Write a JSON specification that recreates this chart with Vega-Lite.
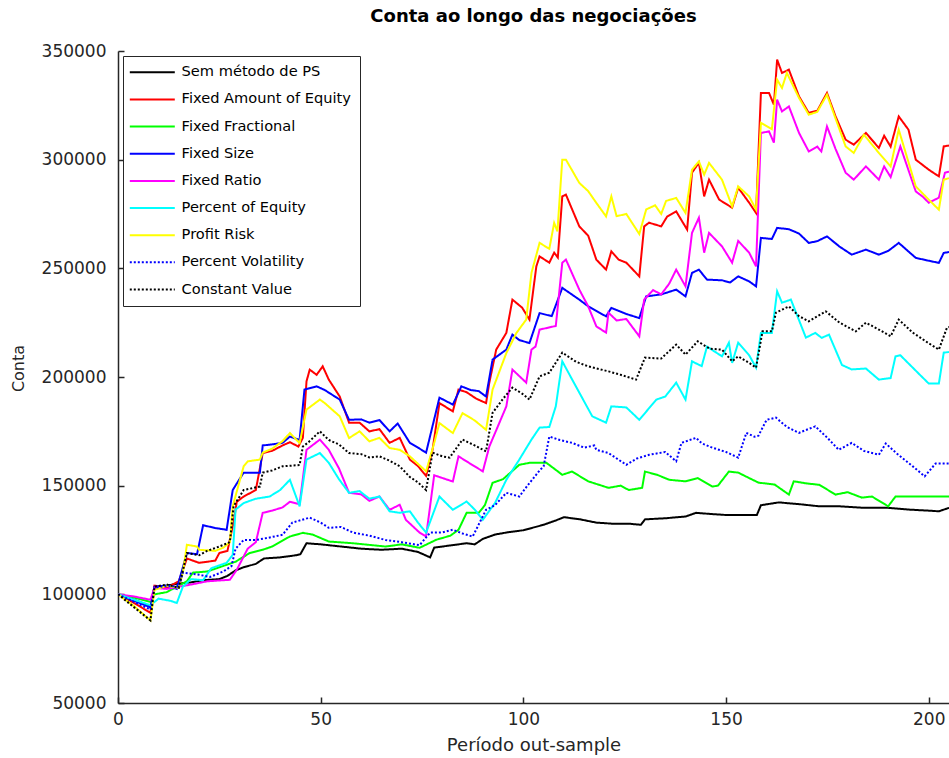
{
"$schema": "https://vega.github.io/schema/vega-lite/v6.json",
"width": 831, "height": 652,
"autosize": "none",
"padding": {"left": 118, "top": 51, "right": 0, "bottom": 55},
"background": "white",
"title": {"text": "Conta ao longo das negociações", "font": "DejaVu Sans", "fontSize": 18, "fontWeight": "bold", "color": "#000", "anchor": "middle", "offset": 16},
"config": {
  "view": {"stroke": null},
  "axis": {"grid": false, "ticks": true, "labelFlush": false, "labelFont": "DejaVu Sans", "labelFontSize": 17, "labelColor": "#262626", "titleFont": "DejaVu Sans", "titleFontSize": 18, "titleFontWeight": "normal", "titleColor": "#262626", "domainColor": "#262626", "domainWidth": 1.5, "tickColor": "#262626", "tickWidth": 1.5, "tickSize": -6},
  "legend": {"orient": "top-left", "offset": 5, "strokeColor": "#262626", "fillColor": "#ffffff", "padding": 9, "symbolType": "M-5,0H5", "symbolSize": 81, "symbolStrokeWidth": 2, "symbolOffset": 13, "labelOffset": 22, "labelLimit": 400, "labelFont": "DejaVu Sans", "labelFontSize": 14.6, "labelColor": "#000", "rowPadding": 12.15, "titleFontSize": 0}
},
"data": {"values": [
{"s":"Sem método de PS","x":0,"y":100000},{"s":"Sem método de PS","x":4,"y":97500},{"s":"Sem método de PS","x":8,"y":94500},{"s":"Sem método de PS","x":9,"y":103500},{"s":"Sem método de PS","x":12,"y":104000},{"s":"Sem método de PS","x":15,"y":105000},{"s":"Sem método de PS","x":18,"y":105500},{"s":"Sem método de PS","x":21,"y":106500},{"s":"Sem método de PS","x":25,"y":107000},{"s":"Sem método de PS","x":27,"y":108500},{"s":"Sem método de PS","x":29,"y":111000},{"s":"Sem método de PS","x":31,"y":112500},{"s":"Sem método de PS","x":34,"y":114000},{"s":"Sem método de PS","x":36,"y":116500},{"s":"Sem método de PS","x":40,"y":117000},{"s":"Sem método de PS","x":44,"y":118000},{"s":"Sem método de PS","x":45,"y":118500},{"s":"Sem método de PS","x":46.5,"y":123500},{"s":"Sem método de PS","x":50,"y":123000},{"s":"Sem método de PS","x":55,"y":122000},{"s":"Sem método de PS","x":60,"y":121000},{"s":"Sem método de PS","x":65,"y":120500},{"s":"Sem método de PS","x":70,"y":121000},{"s":"Sem método de PS","x":74,"y":119500},{"s":"Sem método de PS","x":77,"y":117000},{"s":"Sem método de PS","x":78,"y":121500},{"s":"Sem método de PS","x":82,"y":122500},{"s":"Sem método de PS","x":86,"y":123500},{"s":"Sem método de PS","x":88,"y":123000},{"s":"Sem método de PS","x":90,"y":125500},{"s":"Sem método de PS","x":93,"y":127500},{"s":"Sem método de PS","x":96,"y":128500},{"s":"Sem método de PS","x":100,"y":129500},{"s":"Sem método de PS","x":105,"y":132000},{"s":"Sem método de PS","x":108,"y":134000},{"s":"Sem método de PS","x":110,"y":135500},{"s":"Sem método de PS","x":114,"y":134500},{"s":"Sem método de PS","x":118,"y":133000},{"s":"Sem método de PS","x":122,"y":132500},{"s":"Sem método de PS","x":126,"y":132500},{"s":"Sem método de PS","x":129,"y":132000},{"s":"Sem método de PS","x":130,"y":134500},{"s":"Sem método de PS","x":135,"y":135000},{"s":"Sem método de PS","x":140,"y":135800},{"s":"Sem método de PS","x":142.6,"y":137500},{"s":"Sem método de PS","x":146,"y":137000},{"s":"Sem método de PS","x":150,"y":136500},{"s":"Sem método de PS","x":155,"y":136500},{"s":"Sem método de PS","x":157.6,"y":136500},{"s":"Sem método de PS","x":158.6,"y":141000},{"s":"Sem método de PS","x":163,"y":142300},{"s":"Sem método de PS","x":168,"y":141500},{"s":"Sem método de PS","x":173,"y":140500},{"s":"Sem método de PS","x":178,"y":140500},{"s":"Sem método de PS","x":184,"y":139800},{"s":"Sem método de PS","x":190,"y":139800},{"s":"Sem método de PS","x":195,"y":139000},{"s":"Sem método de PS","x":200,"y":138500},{"s":"Sem método de PS","x":202.5,"y":138200},{"s":"Sem método de PS","x":205,"y":139800},

{"s":"Fixed Amount of Equity","x":0,"y":100000},{"s":"Fixed Amount of Equity","x":4,"y":96000},{"s":"Fixed Amount of Equity","x":8,"y":91500},{"s":"Fixed Amount of Equity","x":9,"y":104000},{"s":"Fixed Amount of Equity","x":12,"y":103000},{"s":"Fixed Amount of Equity","x":15,"y":106000},{"s":"Fixed Amount of Equity","x":17,"y":116500},{"s":"Fixed Amount of Equity","x":20,"y":114500},{"s":"Fixed Amount of Equity","x":24,"y":115500},{"s":"Fixed Amount of Equity","x":25,"y":119000},{"s":"Fixed Amount of Equity","x":27,"y":120000},{"s":"Fixed Amount of Equity","x":28.5,"y":133000},{"s":"Fixed Amount of Equity","x":29.3,"y":142600},{"s":"Fixed Amount of Equity","x":31,"y":145000},{"s":"Fixed Amount of Equity","x":34,"y":148000},{"s":"Fixed Amount of Equity","x":35.7,"y":165000},{"s":"Fixed Amount of Equity","x":38,"y":166000},{"s":"Fixed Amount of Equity","x":40.6,"y":168500},{"s":"Fixed Amount of Equity","x":42.4,"y":170000},{"s":"Fixed Amount of Equity","x":44.5,"y":168000},{"s":"Fixed Amount of Equity","x":45.6,"y":172000},{"s":"Fixed Amount of Equity","x":46.5,"y":198000},{"s":"Fixed Amount of Equity","x":47.3,"y":203400},{"s":"Fixed Amount of Equity","x":49,"y":201000},{"s":"Fixed Amount of Equity","x":50.5,"y":204900},{"s":"Fixed Amount of Equity","x":52,"y":198800},{"s":"Fixed Amount of Equity","x":54.7,"y":191000},{"s":"Fixed Amount of Equity","x":57,"y":179000},{"s":"Fixed Amount of Equity","x":59.6,"y":179000},{"s":"Fixed Amount of Equity","x":62,"y":175000},{"s":"Fixed Amount of Equity","x":64.5,"y":176000},{"s":"Fixed Amount of Equity","x":67,"y":169700},{"s":"Fixed Amount of Equity","x":69.5,"y":172000},{"s":"Fixed Amount of Equity","x":72,"y":162000},{"s":"Fixed Amount of Equity","x":74,"y":159000},{"s":"Fixed Amount of Equity","x":76,"y":154500},{"s":"Fixed Amount of Equity","x":77.6,"y":166500},{"s":"Fixed Amount of Equity","x":79.3,"y":188000},{"s":"Fixed Amount of Equity","x":82.6,"y":184200},{"s":"Fixed Amount of Equity","x":84,"y":194200},{"s":"Fixed Amount of Equity","x":86,"y":193000},{"s":"Fixed Amount of Equity","x":88.4,"y":190000},{"s":"Fixed Amount of Equity","x":90.8,"y":188000},{"s":"Fixed Amount of Equity","x":91.6,"y":197400},{"s":"Fixed Amount of Equity","x":93.3,"y":212600},{"s":"Fixed Amount of Equity","x":95.8,"y":220300},{"s":"Fixed Amount of Equity","x":97.3,"y":235600},{"s":"Fixed Amount of Equity","x":99.7,"y":231900},{"s":"Fixed Amount of Equity","x":101.5,"y":226400},{"s":"Fixed Amount of Equity","x":103.2,"y":250900},{"s":"Fixed Amount of Equity","x":104,"y":255500},{"s":"Fixed Amount of Equity","x":106.4,"y":252600},{"s":"Fixed Amount of Equity","x":107.6,"y":257200},{"s":"Fixed Amount of Equity","x":108.5,"y":255000},{"s":"Fixed Amount of Equity","x":109.6,"y":283100},{"s":"Fixed Amount of Equity","x":110.5,"y":283900},{"s":"Fixed Amount of Equity","x":113.8,"y":269300},{"s":"Fixed Amount of Equity","x":116,"y":265000},{"s":"Fixed Amount of Equity","x":118,"y":254000},{"s":"Fixed Amount of Equity","x":120.4,"y":249400},{"s":"Fixed Amount of Equity","x":121.7,"y":257800},{"s":"Fixed Amount of Equity","x":123.5,"y":254000},{"s":"Fixed Amount of Equity","x":125.4,"y":252600},{"s":"Fixed Amount of Equity","x":128.6,"y":246300},{"s":"Fixed Amount of Equity","x":129.8,"y":269300},{"s":"Fixed Amount of Equity","x":131,"y":271000},{"s":"Fixed Amount of Equity","x":134,"y":269300},{"s":"Fixed Amount of Equity","x":135.5,"y":273900},{"s":"Fixed Amount of Equity","x":137.7,"y":276200},{"s":"Fixed Amount of Equity","x":140.4,"y":267800},{"s":"Fixed Amount of Equity","x":141.6,"y":294000},{"s":"Fixed Amount of Equity","x":143.3,"y":298600},{"s":"Fixed Amount of Equity","x":144.6,"y":283100},{"s":"Fixed Amount of Equity","x":145.8,"y":290800},{"s":"Fixed Amount of Equity","x":148.3,"y":281600},{"s":"Fixed Amount of Equity","x":151.5,"y":277900},{"s":"Fixed Amount of Equity","x":153,"y":287100},{"s":"Fixed Amount of Equity","x":155.7,"y":280200},{"s":"Fixed Amount of Equity","x":157.4,"y":275500},{"s":"Fixed Amount of Equity","x":158.6,"y":330700},{"s":"Fixed Amount of Equity","x":160.6,"y":330700},{"s":"Fixed Amount of Equity","x":161.8,"y":325300},{"s":"Fixed Amount of Equity","x":162.6,"y":346000},{"s":"Fixed Amount of Equity","x":163.8,"y":339900},{"s":"Fixed Amount of Equity","x":165.5,"y":341400},{"s":"Fixed Amount of Equity","x":168,"y":329100},{"s":"Fixed Amount of Equity","x":170.4,"y":321500},{"s":"Fixed Amount of Equity","x":172.5,"y":322500},{"s":"Fixed Amount of Equity","x":174.9,"y":330700},{"s":"Fixed Amount of Equity","x":177,"y":320000},{"s":"Fixed Amount of Equity","x":179.5,"y":309200},{"s":"Fixed Amount of Equity","x":181.5,"y":306900},{"s":"Fixed Amount of Equity","x":184.5,"y":312300},{"s":"Fixed Amount of Equity","x":187.7,"y":305400},{"s":"Fixed Amount of Equity","x":189,"y":311000},{"s":"Fixed Amount of Equity","x":190.6,"y":306000},{"s":"Fixed Amount of Equity","x":192.6,"y":319900},{"s":"Fixed Amount of Equity","x":195,"y":313800},{"s":"Fixed Amount of Equity","x":196.8,"y":300000},{"s":"Fixed Amount of Equity","x":200,"y":295400},{"s":"Fixed Amount of Equity","x":202.5,"y":292300},{"s":"Fixed Amount of Equity","x":203.7,"y":306100},{"s":"Fixed Amount of Equity","x":205,"y":306500},

{"s":"Fixed Fractional","x":0,"y":100000},{"s":"Fixed Fractional","x":4,"y":98500},{"s":"Fixed Fractional","x":8,"y":96500},{"s":"Fixed Fractional","x":9,"y":100000},{"s":"Fixed Fractional","x":12,"y":101000},{"s":"Fixed Fractional","x":15,"y":104000},{"s":"Fixed Fractional","x":17,"y":106000},{"s":"Fixed Fractional","x":18.5,"y":110000},{"s":"Fixed Fractional","x":22,"y":110500},{"s":"Fixed Fractional","x":26.8,"y":113600},{"s":"Fixed Fractional","x":29,"y":115000},{"s":"Fixed Fractional","x":32.5,"y":119000},{"s":"Fixed Fractional","x":35.7,"y":120500},{"s":"Fixed Fractional","x":38,"y":122000},{"s":"Fixed Fractional","x":42.4,"y":126600},{"s":"Fixed Fractional","x":45.6,"y":128300},{"s":"Fixed Fractional","x":48,"y":127500},{"s":"Fixed Fractional","x":52,"y":124300},{"s":"Fixed Fractional","x":58,"y":123500},{"s":"Fixed Fractional","x":66,"y":122000},{"s":"Fixed Fractional","x":70,"y":123000},{"s":"Fixed Fractional","x":74.4,"y":121400},{"s":"Fixed Fractional","x":78.5,"y":125100},{"s":"Fixed Fractional","x":82,"y":127000},{"s":"Fixed Fractional","x":84,"y":129700},{"s":"Fixed Fractional","x":86,"y":137500},{"s":"Fixed Fractional","x":89,"y":137500},{"s":"Fixed Fractional","x":90.5,"y":141000},{"s":"Fixed Fractional","x":92.4,"y":151300},{"s":"Fixed Fractional","x":95,"y":153000},{"s":"Fixed Fractional","x":99,"y":159600},{"s":"Fixed Fractional","x":101.5,"y":160500},{"s":"Fixed Fractional","x":105.7,"y":160500},{"s":"Fixed Fractional","x":109.6,"y":155000},{"s":"Fixed Fractional","x":112,"y":156500},{"s":"Fixed Fractional","x":116,"y":152000},{"s":"Fixed Fractional","x":121,"y":149000},{"s":"Fixed Fractional","x":124,"y":150000},{"s":"Fixed Fractional","x":126,"y":148000},{"s":"Fixed Fractional","x":129.3,"y":149000},{"s":"Fixed Fractional","x":130,"y":156500},{"s":"Fixed Fractional","x":133,"y":155000},{"s":"Fixed Fractional","x":136,"y":152700},{"s":"Fixed Fractional","x":140,"y":152000},{"s":"Fixed Fractional","x":143,"y":153500},{"s":"Fixed Fractional","x":146.6,"y":149600},{"s":"Fixed Fractional","x":148,"y":150000},{"s":"Fixed Fractional","x":150.7,"y":156500},{"s":"Fixed Fractional","x":153,"y":156000},{"s":"Fixed Fractional","x":155.7,"y":153500},{"s":"Fixed Fractional","x":158,"y":151400},{"s":"Fixed Fractional","x":162,"y":150500},{"s":"Fixed Fractional","x":165.5,"y":145900},{"s":"Fixed Fractional","x":166.7,"y":152000},{"s":"Fixed Fractional","x":170,"y":151000},{"s":"Fixed Fractional","x":173,"y":150400},{"s":"Fixed Fractional","x":177,"y":145900},{"s":"Fixed Fractional","x":180,"y":147000},{"s":"Fixed Fractional","x":183.5,"y":144500},{"s":"Fixed Fractional","x":186,"y":145000},{"s":"Fixed Fractional","x":190,"y":140500},{"s":"Fixed Fractional","x":191.8,"y":145000},{"s":"Fixed Fractional","x":205,"y":145000},

{"s":"Fixed Size","x":0,"y":100000},{"s":"Fixed Size","x":4,"y":97000},{"s":"Fixed Size","x":8,"y":94000},{"s":"Fixed Size","x":9,"y":103500},{"s":"Fixed Size","x":12,"y":104000},{"s":"Fixed Size","x":14.5,"y":102500},{"s":"Fixed Size","x":17,"y":119000},{"s":"Fixed Size","x":19.5,"y":118500},{"s":"Fixed Size","x":21,"y":131800},{"s":"Fixed Size","x":24,"y":130500},{"s":"Fixed Size","x":26.8,"y":129700},{"s":"Fixed Size","x":28.3,"y":148000},{"s":"Fixed Size","x":31,"y":156000},{"s":"Fixed Size","x":35,"y":156000},{"s":"Fixed Size","x":35.7,"y":168500},{"s":"Fixed Size","x":38,"y":169000},{"s":"Fixed Size","x":40.6,"y":169700},{"s":"Fixed Size","x":42.4,"y":172600},{"s":"Fixed Size","x":44.8,"y":171000},{"s":"Fixed Size","x":46,"y":194200},{"s":"Fixed Size","x":49,"y":195700},{"s":"Fixed Size","x":51,"y":194000},{"s":"Fixed Size","x":54.7,"y":189600},{"s":"Fixed Size","x":57,"y":180300},{"s":"Fixed Size","x":60,"y":180500},{"s":"Fixed Size","x":62,"y":179000},{"s":"Fixed Size","x":64.5,"y":180200},{"s":"Fixed Size","x":67,"y":175000},{"s":"Fixed Size","x":69,"y":178600},{"s":"Fixed Size","x":72,"y":169700},{"s":"Fixed Size","x":74,"y":167500},{"s":"Fixed Size","x":76,"y":165200},{"s":"Fixed Size","x":79.3,"y":190500},{"s":"Fixed Size","x":82.6,"y":187300},{"s":"Fixed Size","x":84.7,"y":195700},{"s":"Fixed Size","x":87,"y":194000},{"s":"Fixed Size","x":89,"y":193500},{"s":"Fixed Size","x":90.8,"y":191000},{"s":"Fixed Size","x":92.4,"y":208000},{"s":"Fixed Size","x":95.8,"y":212600},{"s":"Fixed Size","x":97.3,"y":219500},{"s":"Fixed Size","x":99,"y":217000},{"s":"Fixed Size","x":101.5,"y":215600},{"s":"Fixed Size","x":104,"y":229400},{"s":"Fixed Size","x":107,"y":228000},{"s":"Fixed Size","x":109.6,"y":241000},{"s":"Fixed Size","x":113.8,"y":235600},{"s":"Fixed Size","x":116,"y":232500},{"s":"Fixed Size","x":120.4,"y":227900},{"s":"Fixed Size","x":121.7,"y":231800},{"s":"Fixed Size","x":125.4,"y":229000},{"s":"Fixed Size","x":128.6,"y":227100},{"s":"Fixed Size","x":130.3,"y":237100},{"s":"Fixed Size","x":134,"y":238000},{"s":"Fixed Size","x":137.7,"y":240200},{"s":"Fixed Size","x":140,"y":237100},{"s":"Fixed Size","x":141.6,"y":247900},{"s":"Fixed Size","x":143.3,"y":249400},{"s":"Fixed Size","x":145.3,"y":244800},{"s":"Fixed Size","x":149,"y":244500},{"s":"Fixed Size","x":151,"y":243500},{"s":"Fixed Size","x":153,"y":246300},{"s":"Fixed Size","x":155.7,"y":244000},{"s":"Fixed Size","x":157.4,"y":241700},{"s":"Fixed Size","x":158.6,"y":264000},{"s":"Fixed Size","x":161.3,"y":263500},{"s":"Fixed Size","x":162.6,"y":268600},{"s":"Fixed Size","x":165.5,"y":268000},{"s":"Fixed Size","x":168,"y":266000},{"s":"Fixed Size","x":170.4,"y":261700},{"s":"Fixed Size","x":172.5,"y":262500},{"s":"Fixed Size","x":174.9,"y":264700},{"s":"Fixed Size","x":178,"y":260000},{"s":"Fixed Size","x":181,"y":256300},{"s":"Fixed Size","x":184.5,"y":258600},{"s":"Fixed Size","x":187.7,"y":256300},{"s":"Fixed Size","x":190,"y":258000},{"s":"Fixed Size","x":192.6,"y":261700},{"s":"Fixed Size","x":196.8,"y":254800},{"s":"Fixed Size","x":200,"y":253500},{"s":"Fixed Size","x":202.5,"y":252500},{"s":"Fixed Size","x":203.7,"y":257100},{"s":"Fixed Size","x":205,"y":257500},

{"s":"Fixed Ratio","x":0,"y":100000},{"s":"Fixed Ratio","x":4,"y":99000},{"s":"Fixed Ratio","x":8,"y":97500},{"s":"Fixed Ratio","x":9,"y":103000},{"s":"Fixed Ratio","x":12,"y":102500},{"s":"Fixed Ratio","x":15,"y":103500},{"s":"Fixed Ratio","x":18,"y":104500},{"s":"Fixed Ratio","x":22,"y":106000},{"s":"Fixed Ratio","x":27.6,"y":106700},{"s":"Fixed Ratio","x":29.3,"y":111300},{"s":"Fixed Ratio","x":32,"y":121000},{"s":"Fixed Ratio","x":34,"y":124000},{"s":"Fixed Ratio","x":35.7,"y":137500},{"s":"Fixed Ratio","x":38,"y":138500},{"s":"Fixed Ratio","x":40.6,"y":140000},{"s":"Fixed Ratio","x":42.4,"y":142600},{"s":"Fixed Ratio","x":44.8,"y":141500},{"s":"Fixed Ratio","x":46.5,"y":166500},{"s":"Fixed Ratio","x":49.8,"y":171200},{"s":"Fixed Ratio","x":52,"y":166500},{"s":"Fixed Ratio","x":54.5,"y":158000},{"s":"Fixed Ratio","x":57,"y":146700},{"s":"Fixed Ratio","x":60,"y":146000},{"s":"Fixed Ratio","x":62,"y":143000},{"s":"Fixed Ratio","x":64.5,"y":145000},{"s":"Fixed Ratio","x":67,"y":138900},{"s":"Fixed Ratio","x":69.5,"y":141200},{"s":"Fixed Ratio","x":71,"y":134300},{"s":"Fixed Ratio","x":74.4,"y":128400},{"s":"Fixed Ratio","x":76,"y":126600},{"s":"Fixed Ratio","x":78,"y":154800},{"s":"Fixed Ratio","x":82.6,"y":151900},{"s":"Fixed Ratio","x":84,"y":163500},{"s":"Fixed Ratio","x":87,"y":160000},{"s":"Fixed Ratio","x":90,"y":156600},{"s":"Fixed Ratio","x":91.6,"y":168000},{"s":"Fixed Ratio","x":95.8,"y":186500},{"s":"Fixed Ratio","x":97.3,"y":203400},{"s":"Fixed Ratio","x":100.7,"y":197400},{"s":"Fixed Ratio","x":102,"y":212600},{"s":"Fixed Ratio","x":103,"y":214000},{"s":"Fixed Ratio","x":104,"y":221800},{"s":"Fixed Ratio","x":108,"y":223500},{"s":"Fixed Ratio","x":109.6,"y":252600},{"s":"Fixed Ratio","x":110.5,"y":254000},{"s":"Fixed Ratio","x":113.8,"y":240200},{"s":"Fixed Ratio","x":116,"y":232500},{"s":"Fixed Ratio","x":118,"y":223300},{"s":"Fixed Ratio","x":120.4,"y":220400},{"s":"Fixed Ratio","x":121,"y":229600},{"s":"Fixed Ratio","x":123,"y":226000},{"s":"Fixed Ratio","x":125.4,"y":226700},{"s":"Fixed Ratio","x":128.6,"y":218700},{"s":"Fixed Ratio","x":129.8,"y":235600},{"s":"Fixed Ratio","x":132,"y":240000},{"s":"Fixed Ratio","x":134,"y":238000},{"s":"Fixed Ratio","x":136,"y":243000},{"s":"Fixed Ratio","x":137.7,"y":249400},{"s":"Fixed Ratio","x":140,"y":241700},{"s":"Fixed Ratio","x":141.6,"y":266300},{"s":"Fixed Ratio","x":143.3,"y":273300},{"s":"Fixed Ratio","x":144.6,"y":257200},{"s":"Fixed Ratio","x":145.8,"y":266300},{"s":"Fixed Ratio","x":149,"y":260100},{"s":"Fixed Ratio","x":151.5,"y":252600},{"s":"Fixed Ratio","x":153,"y":262600},{"s":"Fixed Ratio","x":155.7,"y":257200},{"s":"Fixed Ratio","x":157.4,"y":250900},{"s":"Fixed Ratio","x":158.6,"y":312300},{"s":"Fixed Ratio","x":160.6,"y":313000},{"s":"Fixed Ratio","x":161.8,"y":307800},{"s":"Fixed Ratio","x":162.6,"y":327600},{"s":"Fixed Ratio","x":163.8,"y":322200},{"s":"Fixed Ratio","x":165.5,"y":324500},{"s":"Fixed Ratio","x":168,"y":312300},{"s":"Fixed Ratio","x":170.4,"y":303800},{"s":"Fixed Ratio","x":172.5,"y":306000},{"s":"Fixed Ratio","x":173.5,"y":303800},{"s":"Fixed Ratio","x":174.9,"y":315300},{"s":"Fixed Ratio","x":177,"y":305000},{"s":"Fixed Ratio","x":179.5,"y":294000},{"s":"Fixed Ratio","x":181.5,"y":290800},{"s":"Fixed Ratio","x":184.5,"y":296900},{"s":"Fixed Ratio","x":187.7,"y":290800},{"s":"Fixed Ratio","x":189,"y":296900},{"s":"Fixed Ratio","x":190.6,"y":292000},{"s":"Fixed Ratio","x":193,"y":306100},{"s":"Fixed Ratio","x":196.8,"y":285400},{"s":"Fixed Ratio","x":198.5,"y":283000},{"s":"Fixed Ratio","x":200,"y":280200},{"s":"Fixed Ratio","x":202.5,"y":282500},{"s":"Fixed Ratio","x":204,"y":294000},{"s":"Fixed Ratio","x":205,"y":294500},

{"s":"Percent of Equity","x":0,"y":100000},{"s":"Percent of Equity","x":4,"y":97500},{"s":"Percent of Equity","x":8,"y":95000},{"s":"Percent of Equity","x":10,"y":98000},{"s":"Percent of Equity","x":13,"y":97000},{"s":"Percent of Equity","x":14.5,"y":96000},{"s":"Percent of Equity","x":16,"y":103500},{"s":"Percent of Equity","x":18,"y":107000},{"s":"Percent of Equity","x":21,"y":106500},{"s":"Percent of Equity","x":23,"y":112000},{"s":"Percent of Equity","x":26.8,"y":114500},{"s":"Percent of Equity","x":28.3,"y":118200},{"s":"Percent of Equity","x":29,"y":139000},{"s":"Percent of Equity","x":31,"y":142000},{"s":"Percent of Equity","x":34,"y":144000},{"s":"Percent of Equity","x":37.4,"y":145000},{"s":"Percent of Equity","x":40,"y":148000},{"s":"Percent of Equity","x":42.4,"y":152700},{"s":"Percent of Equity","x":44.8,"y":140500},{"s":"Percent of Equity","x":46.5,"y":162000},{"s":"Percent of Equity","x":49.8,"y":165000},{"s":"Percent of Equity","x":52,"y":160500},{"s":"Percent of Equity","x":54.5,"y":153000},{"s":"Percent of Equity","x":57,"y":146700},{"s":"Percent of Equity","x":59.6,"y":147500},{"s":"Percent of Equity","x":62,"y":144000},{"s":"Percent of Equity","x":64.5,"y":145000},{"s":"Percent of Equity","x":67,"y":138200},{"s":"Percent of Equity","x":69.5,"y":137500},{"s":"Percent of Equity","x":72,"y":138200},{"s":"Percent of Equity","x":74,"y":133000},{"s":"Percent of Equity","x":76,"y":128400},{"s":"Percent of Equity","x":79.3,"y":145000},{"s":"Percent of Equity","x":82.6,"y":138900},{"s":"Percent of Equity","x":86,"y":142700},{"s":"Percent of Equity","x":88,"y":139000},{"s":"Percent of Equity","x":90,"y":134300},{"s":"Percent of Equity","x":93,"y":142000},{"s":"Percent of Equity","x":95.8,"y":152700},{"s":"Percent of Equity","x":99,"y":162000},{"s":"Percent of Equity","x":102,"y":171200},{"s":"Percent of Equity","x":104,"y":176700},{"s":"Percent of Equity","x":106.4,"y":177000},{"s":"Percent of Equity","x":108,"y":186500},{"s":"Percent of Equity","x":109.6,"y":207200},{"s":"Percent of Equity","x":113.8,"y":192800},{"s":"Percent of Equity","x":117,"y":181900},{"s":"Percent of Equity","x":120.4,"y":179000},{"s":"Percent of Equity","x":121.7,"y":186500},{"s":"Percent of Equity","x":125.4,"y":186000},{"s":"Percent of Equity","x":128.6,"y":180300},{"s":"Percent of Equity","x":132.8,"y":189600},{"s":"Percent of Equity","x":135,"y":191000},{"s":"Percent of Equity","x":137.7,"y":197400},{"s":"Percent of Equity","x":140,"y":189600},{"s":"Percent of Equity","x":141.6,"y":207200},{"s":"Percent of Equity","x":144,"y":205000},{"s":"Percent of Equity","x":145.3,"y":214000},{"s":"Percent of Equity","x":149,"y":209500},{"s":"Percent of Equity","x":150.7,"y":215800},{"s":"Percent of Equity","x":151.5,"y":206500},{"s":"Percent of Equity","x":153,"y":215800},{"s":"Percent of Equity","x":155.7,"y":210000},{"s":"Percent of Equity","x":157.4,"y":204300},{"s":"Percent of Equity","x":158.6,"y":220300},{"s":"Percent of Equity","x":161.3,"y":220300},{"s":"Percent of Equity","x":162.6,"y":239400},{"s":"Percent of Equity","x":163.8,"y":234200},{"s":"Percent of Equity","x":166,"y":235600},{"s":"Percent of Equity","x":169.7,"y":218100},{"s":"Percent of Equity","x":172,"y":220300},{"s":"Percent of Equity","x":173.6,"y":218000},{"s":"Percent of Equity","x":175.4,"y":219500},{"s":"Percent of Equity","x":178.6,"y":205500},{"s":"Percent of Equity","x":181,"y":203500},{"s":"Percent of Equity","x":184.5,"y":203900},{"s":"Percent of Equity","x":187.7,"y":198800},{"s":"Percent of Equity","x":190.6,"y":199500},{"s":"Percent of Equity","x":191.8,"y":209500},{"s":"Percent of Equity","x":193,"y":210000},{"s":"Percent of Equity","x":197.5,"y":201600},{"s":"Percent of Equity","x":200,"y":197000},{"s":"Percent of Equity","x":202.5,"y":197000},{"s":"Percent of Equity","x":203.7,"y":211200},{"s":"Percent of Equity","x":205,"y":211500},

{"s":"Profit Risk","x":0,"y":100000},{"s":"Profit Risk","x":4,"y":94500},{"s":"Profit Risk","x":8,"y":88000},{"s":"Profit Risk","x":9,"y":102000},{"s":"Profit Risk","x":12,"y":104000},{"s":"Profit Risk","x":15,"y":103000},{"s":"Profit Risk","x":16,"y":110000},{"s":"Profit Risk","x":17,"y":122800},{"s":"Profit Risk","x":19.5,"y":122000},{"s":"Profit Risk","x":20,"y":120500},{"s":"Profit Risk","x":24,"y":120000},{"s":"Profit Risk","x":26,"y":121500},{"s":"Profit Risk","x":27.6,"y":124000},{"s":"Profit Risk","x":28.3,"y":140500},{"s":"Profit Risk","x":31,"y":158900},{"s":"Profit Risk","x":32,"y":161200},{"s":"Profit Risk","x":35,"y":162000},{"s":"Profit Risk","x":35.7,"y":165200},{"s":"Profit Risk","x":38,"y":167000},{"s":"Profit Risk","x":40.6,"y":170500},{"s":"Profit Risk","x":42.4,"y":174200},{"s":"Profit Risk","x":44.8,"y":169600},{"s":"Profit Risk","x":46.5,"y":185000},{"s":"Profit Risk","x":49.8,"y":189600},{"s":"Profit Risk","x":51,"y":188000},{"s":"Profit Risk","x":54.7,"y":181900},{"s":"Profit Risk","x":57,"y":171900},{"s":"Profit Risk","x":59.6,"y":175000},{"s":"Profit Risk","x":62,"y":170400},{"s":"Profit Risk","x":64.5,"y":172000},{"s":"Profit Risk","x":67,"y":167300},{"s":"Profit Risk","x":69.5,"y":166500},{"s":"Profit Risk","x":72,"y":163500},{"s":"Profit Risk","x":76,"y":156600},{"s":"Profit Risk","x":78,"y":169600},{"s":"Profit Risk","x":79.3,"y":178800},{"s":"Profit Risk","x":82.6,"y":174200},{"s":"Profit Risk","x":85,"y":183400},{"s":"Profit Risk","x":88,"y":180000},{"s":"Profit Risk","x":90.8,"y":175700},{"s":"Profit Risk","x":92.4,"y":194200},{"s":"Profit Risk","x":95.8,"y":211000},{"s":"Profit Risk","x":98.3,"y":220300},{"s":"Profit Risk","x":100.7,"y":226400},{"s":"Profit Risk","x":102,"y":247900},{"s":"Profit Risk","x":104,"y":261700},{"s":"Profit Risk","x":106.4,"y":259000},{"s":"Profit Risk","x":107.6,"y":270900},{"s":"Profit Risk","x":108.4,"y":267000},{"s":"Profit Risk","x":109.6,"y":300000},{"s":"Profit Risk","x":110.5,"y":300000},{"s":"Profit Risk","x":113.8,"y":289300},{"s":"Profit Risk","x":116,"y":285500},{"s":"Profit Risk","x":118,"y":280100},{"s":"Profit Risk","x":120.4,"y":273900},{"s":"Profit Risk","x":121.7,"y":283100},{"s":"Profit Risk","x":123,"y":274000},{"s":"Profit Risk","x":125.4,"y":275000},{"s":"Profit Risk","x":128.6,"y":265800},{"s":"Profit Risk","x":130.3,"y":277100},{"s":"Profit Risk","x":132.5,"y":279000},{"s":"Profit Risk","x":134,"y":275000},{"s":"Profit Risk","x":135.2,"y":281000},{"s":"Profit Risk","x":137.7,"y":282400},{"s":"Profit Risk","x":140,"y":275500},{"s":"Profit Risk","x":141.6,"y":295400},{"s":"Profit Risk","x":143.3,"y":299200},{"s":"Profit Risk","x":144.6,"y":293100},{"s":"Profit Risk","x":145.8,"y":298500},{"s":"Profit Risk","x":149,"y":290800},{"s":"Profit Risk","x":151.5,"y":278500},{"s":"Profit Risk","x":153,"y":287700},{"s":"Profit Risk","x":155.7,"y":283100},{"s":"Profit Risk","x":157.4,"y":277000},{"s":"Profit Risk","x":158.6,"y":316900},{"s":"Profit Risk","x":161.3,"y":314000},{"s":"Profit Risk","x":162.6,"y":336800},{"s":"Profit Risk","x":163.8,"y":333000},{"s":"Profit Risk","x":165,"y":339900},{"s":"Profit Risk","x":168,"y":328400},{"s":"Profit Risk","x":170.4,"y":320700},{"s":"Profit Risk","x":172.5,"y":322000},{"s":"Profit Risk","x":174.9,"y":329900},{"s":"Profit Risk","x":179.5,"y":306100},{"s":"Profit Risk","x":181.5,"y":303100},{"s":"Profit Risk","x":184,"y":311500},{"s":"Profit Risk","x":187.7,"y":303100},{"s":"Profit Risk","x":190.6,"y":296900},{"s":"Profit Risk","x":192.6,"y":313800},{"s":"Profit Risk","x":196.8,"y":287700},{"s":"Profit Risk","x":200,"y":281600},{"s":"Profit Risk","x":202.5,"y":277000},{"s":"Profit Risk","x":203.7,"y":290800},{"s":"Profit Risk","x":205,"y":291500},

{"s":"Percent Volatility","x":0,"y":100000},{"s":"Percent Volatility","x":4,"y":96500},{"s":"Percent Volatility","x":8,"y":93000},{"s":"Percent Volatility","x":9,"y":103000},{"s":"Percent Volatility","x":12,"y":104000},{"s":"Percent Volatility","x":15,"y":103500},{"s":"Percent Volatility","x":16,"y":110000},{"s":"Percent Volatility","x":20,"y":109000},{"s":"Percent Volatility","x":22.7,"y":108000},{"s":"Percent Volatility","x":26,"y":110500},{"s":"Percent Volatility","x":28,"y":113000},{"s":"Percent Volatility","x":29,"y":121000},{"s":"Percent Volatility","x":31,"y":125000},{"s":"Percent Volatility","x":34,"y":125000},{"s":"Percent Volatility","x":37,"y":126000},{"s":"Percent Volatility","x":40.6,"y":127400},{"s":"Percent Volatility","x":43,"y":133000},{"s":"Percent Volatility","x":47.3,"y":135300},{"s":"Percent Volatility","x":50,"y":133000},{"s":"Percent Volatility","x":52,"y":130600},{"s":"Percent Volatility","x":55,"y":131000},{"s":"Percent Volatility","x":58,"y":128400},{"s":"Percent Volatility","x":62,"y":127000},{"s":"Percent Volatility","x":66,"y":125000},{"s":"Percent Volatility","x":70,"y":124000},{"s":"Percent Volatility","x":74.4,"y":122600},{"s":"Percent Volatility","x":77,"y":128400},{"s":"Percent Volatility","x":80,"y":128500},{"s":"Percent Volatility","x":82.6,"y":129700},{"s":"Percent Volatility","x":85,"y":128000},{"s":"Percent Volatility","x":87.5,"y":126600},{"s":"Percent Volatility","x":90.8,"y":138900},{"s":"Percent Volatility","x":93,"y":141000},{"s":"Percent Volatility","x":95.8,"y":146700},{"s":"Percent Volatility","x":99,"y":145000},{"s":"Percent Volatility","x":101,"y":150000},{"s":"Percent Volatility","x":104,"y":157000},{"s":"Percent Volatility","x":105,"y":158900},{"s":"Percent Volatility","x":106.4,"y":172600},{"s":"Percent Volatility","x":109,"y":171000},{"s":"Percent Volatility","x":112,"y":169700},{"s":"Percent Volatility","x":115,"y":167500},{"s":"Percent Volatility","x":117.5,"y":168500},{"s":"Percent Volatility","x":118,"y":166500},{"s":"Percent Volatility","x":121,"y":165000},{"s":"Percent Volatility","x":125.4,"y":159600},{"s":"Percent Volatility","x":128,"y":162500},{"s":"Percent Volatility","x":131,"y":164200},{"s":"Percent Volatility","x":135,"y":165500},{"s":"Percent Volatility","x":137.7,"y":161200},{"s":"Percent Volatility","x":139,"y":169700},{"s":"Percent Volatility","x":142.6,"y":172000},{"s":"Percent Volatility","x":144,"y":169500},{"s":"Percent Volatility","x":146.6,"y":167500},{"s":"Percent Volatility","x":150,"y":165500},{"s":"Percent Volatility","x":153,"y":162900},{"s":"Percent Volatility","x":155,"y":174300},{"s":"Percent Volatility","x":157,"y":172500},{"s":"Percent Volatility","x":158,"y":173000},{"s":"Percent Volatility","x":160,"y":180300},{"s":"Percent Volatility","x":162.3,"y":181300},{"s":"Percent Volatility","x":165,"y":177000},{"s":"Percent Volatility","x":168,"y":174300},{"s":"Percent Volatility","x":172,"y":177300},{"s":"Percent Volatility","x":175,"y":172000},{"s":"Percent Volatility","x":177.8,"y":166500},{"s":"Percent Volatility","x":181,"y":169700},{"s":"Percent Volatility","x":184,"y":166000},{"s":"Percent Volatility","x":187.7,"y":164200},{"s":"Percent Volatility","x":189.4,"y":169400},{"s":"Percent Volatility","x":192,"y":165000},{"s":"Percent Volatility","x":196,"y":159000},{"s":"Percent Volatility","x":199,"y":154300},{"s":"Percent Volatility","x":201.7,"y":160200},{"s":"Percent Volatility","x":205,"y":160200},

{"s":"Constant Value","x":0,"y":100000},{"s":"Constant Value","x":4,"y":94000},{"s":"Constant Value","x":8,"y":88000},{"s":"Constant Value","x":9,"y":103500},{"s":"Constant Value","x":12,"y":104500},{"s":"Constant Value","x":15,"y":103000},{"s":"Constant Value","x":17,"y":119000},{"s":"Constant Value","x":20,"y":118000},{"s":"Constant Value","x":22,"y":120000},{"s":"Constant Value","x":25,"y":122000},{"s":"Constant Value","x":27.6,"y":124000},{"s":"Constant Value","x":28.5,"y":140500},{"s":"Constant Value","x":31,"y":148000},{"s":"Constant Value","x":35,"y":149600},{"s":"Constant Value","x":35.7,"y":156000},{"s":"Constant Value","x":38,"y":157000},{"s":"Constant Value","x":40.6,"y":158900},{"s":"Constant Value","x":44.8,"y":159500},{"s":"Constant Value","x":45.6,"y":168000},{"s":"Constant Value","x":47,"y":170000},{"s":"Constant Value","x":49.8,"y":175000},{"s":"Constant Value","x":52,"y":171000},{"s":"Constant Value","x":54.5,"y":169000},{"s":"Constant Value","x":57,"y":165000},{"s":"Constant Value","x":60,"y":164500},{"s":"Constant Value","x":62,"y":163000},{"s":"Constant Value","x":64.5,"y":163500},{"s":"Constant Value","x":67,"y":161500},{"s":"Constant Value","x":69.5,"y":158900},{"s":"Constant Value","x":72,"y":154000},{"s":"Constant Value","x":74,"y":151500},{"s":"Constant Value","x":76,"y":148000},{"s":"Constant Value","x":77.6,"y":165200},{"s":"Constant Value","x":80,"y":163500},{"s":"Constant Value","x":81.8,"y":162900},{"s":"Constant Value","x":85,"y":171200},{"s":"Constant Value","x":88,"y":168500},{"s":"Constant Value","x":90.8,"y":165800},{"s":"Constant Value","x":92.4,"y":183500},{"s":"Constant Value","x":95,"y":190000},{"s":"Constant Value","x":97.3,"y":195100},{"s":"Constant Value","x":100,"y":192000},{"s":"Constant Value","x":101.5,"y":189600},{"s":"Constant Value","x":104,"y":200300},{"s":"Constant Value","x":106.4,"y":202000},{"s":"Constant Value","x":109.6,"y":211200},{"s":"Constant Value","x":113,"y":207000},{"s":"Constant Value","x":116,"y":204900},{"s":"Constant Value","x":121,"y":202600},{"s":"Constant Value","x":124,"y":201000},{"s":"Constant Value","x":127.8,"y":198800},{"s":"Constant Value","x":130,"y":208900},{"s":"Constant Value","x":134,"y":208500},{"s":"Constant Value","x":137.7,"y":214900},{"s":"Constant Value","x":140,"y":210300},{"s":"Constant Value","x":143,"y":216400},{"s":"Constant Value","x":146,"y":213000},{"s":"Constant Value","x":149,"y":212600},{"s":"Constant Value","x":151.5,"y":207200},{"s":"Constant Value","x":153,"y":209500},{"s":"Constant Value","x":155.7,"y":206500},{"s":"Constant Value","x":157.4,"y":204300},{"s":"Constant Value","x":159,"y":221000},{"s":"Constant Value","x":161.3,"y":221000},{"s":"Constant Value","x":162.3,"y":229600},{"s":"Constant Value","x":165.5,"y":232500},{"s":"Constant Value","x":168,"y":228000},{"s":"Constant Value","x":170.4,"y":225600},{"s":"Constant Value","x":174.6,"y":230200},{"s":"Constant Value","x":178,"y":225000},{"s":"Constant Value","x":182,"y":221000},{"s":"Constant Value","x":184.5,"y":225000},{"s":"Constant Value","x":188,"y":221500},{"s":"Constant Value","x":190.6,"y":218700},{"s":"Constant Value","x":192.6,"y":226400},{"s":"Constant Value","x":196,"y":220500},{"s":"Constant Value","x":200,"y":215500},{"s":"Constant Value","x":202.5,"y":212600},{"s":"Constant Value","x":204.5,"y":222700},{"s":"Constant Value","x":205,"y":223000}
]},
"mark": {"type": "line", "strokeWidth": 2, "clip": true},
"encoding": {
  "x": {"field": "x", "type": "quantitative", "scale": {"domain": [0, 205], "nice": false, "zero": false},
        "axis": {"title": "Período out-sample", "values": [0, 50, 100, 150, 200], "labelPadding": 14, "titleBaseline": "middle", "titleY": 42}},
  "y": {"field": "y", "type": "quantitative", "scale": {"domain": [50000, 350000], "nice": false, "zero": false},
        "axis": {"title": "Conta", "titleFontSize": 16, "values": [50000, 100000, 150000, 200000, 250000, 300000, 350000], "format": "d", "labelPadding": 18, "titleX": -100, "titleY": 317, "titleAlign": "center", "titleBaseline": "middle", "titleAngle": -90}},
  "color": {"field": "s", "type": "nominal", "title": null,
    "scale": {"domain": ["Sem método de PS", "Fixed Amount of Equity", "Fixed Fractional", "Fixed Size", "Fixed Ratio", "Percent of Equity", "Profit Risk", "Percent Volatility", "Constant Value"],
              "range": ["#000000", "#ff0000", "#00ff00", "#0000ff", "#ff00ff", "#00ffff", "#ffff00", "#0000ff", "#000000"]}},
  "strokeDash": {"field": "s", "type": "nominal", "title": null,
    "scale": {"domain": ["Sem método de PS", "Fixed Amount of Equity", "Fixed Fractional", "Fixed Size", "Fixed Ratio", "Percent of Equity", "Profit Risk", "Percent Volatility", "Constant Value"],
              "range": [[1, 0], [1, 0], [1, 0], [1, 0], [1, 0], [1, 0], [1, 0], [2, 2], [2, 2]]}}
}
}
